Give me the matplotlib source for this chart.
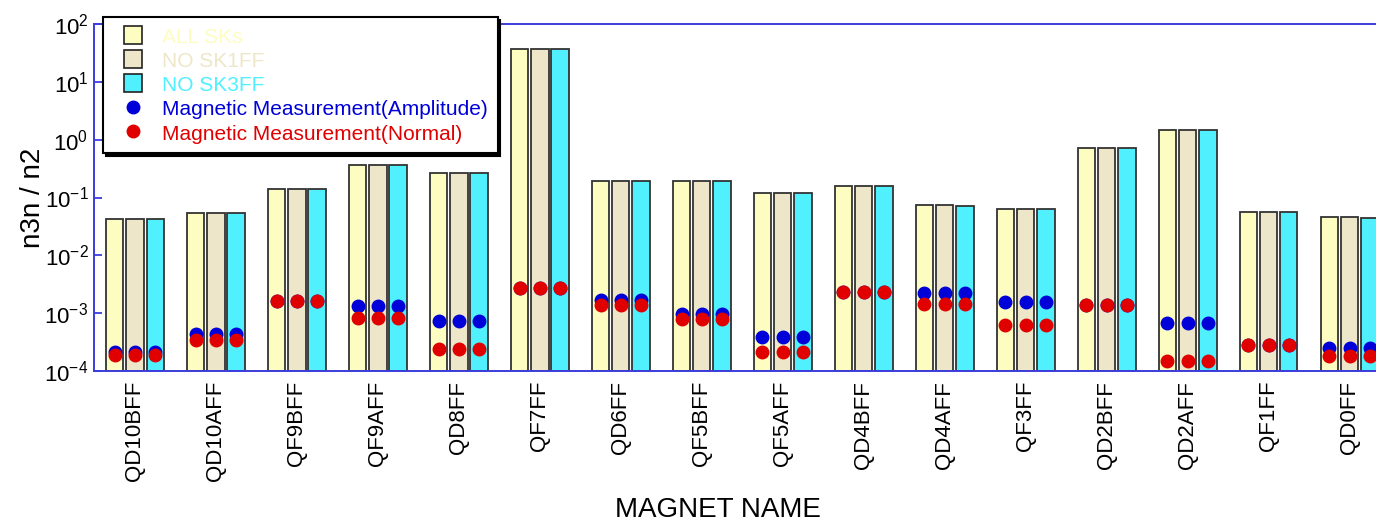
import numpy as np
import matplotlib
matplotlib.use('Agg')
import matplotlib.pyplot as plt
from matplotlib.ticker import NullLocator
from matplotlib.lines import Line2D

plt.rcParams['font.family'] = ['Liberation Sans', 'DejaVu Sans']
plt.rcParams['mathtext.default'] = 'regular'

magnets = ['QD10BFF', 'QD10AFF', 'QF9BFF', 'QF9AFF', 'QD8FF', 'QF7FF', 'QD6FF', 'QF5BFF',
           'QF5AFF', 'QD4BFF', 'QD4AFF', 'QF3FF', 'QD2BFF', 'QD2AFF', 'QF1FF', 'QD0FF']

all_sks = [0.042, 0.053, 0.139, 0.36, 0.26, 36.5, 0.194, 0.193,
           0.12, 0.155, 0.0753, 0.0643, 0.71, 1.48, 0.0564, 0.046]
no_sk1ff = [0.042, 0.053, 0.139, 0.36, 0.26, 36.5, 0.194, 0.193,
            0.12, 0.155, 0.0753, 0.0643, 0.71, 1.48, 0.0564, 0.046]
no_sk3ff = [0.042, 0.053, 0.139, 0.36, 0.26, 36.5, 0.194, 0.193,
            0.12, 0.155, 0.0706, 0.0643, 0.71, 1.48, 0.0564, 0.045]

meas_amp = [2.16e-4, 4.3e-4, 1.61e-3, 1.33e-3, 7.2e-4, 2.73e-3, 1.69e-3, 9.7e-4,
            3.9e-4, 2.33e-3, 2.26e-3, 1.58e-3, 1.39e-3, 6.86e-4, 2.78e-4, 2.53e-4]
meas_norm = [1.89e-4, 3.4e-4, 1.61e-3, 8.4e-4, 2.4e-4, 2.73e-3, 1.39e-3, 7.9e-4,
             2.16e-4, 2.33e-3, 1.44e-3, 6.25e-4, 1.39e-3, 1.49e-4, 2.78e-4, 1.8e-4]

series = [('ALL SKs', all_sks, '#FDFDC2'),
          ('NO SK1FF', no_sk1ff, '#EEE6C8'),
          ('NO SK3FF', no_sk3ff, '#50F0FF')]
blue = '#0000D8'
red = '#E00000'
spine_blue = '#3c3cdc'

fig = plt.figure(figsize=(13.76, 5.26), dpi=100)
ax = fig.add_axes([94/1376, 155/526, 1296/1376, 347/526])

x = np.arange(len(magnets))
offsets = [-0.25, 0, 0.25]
for (name, vals, col), off in zip(series, offsets):
    ax.bar(x + off, vals, width=0.215, bottom=1e-4, color=col, edgecolor='#333333',
           linewidth=1.3, zorder=2)
    ax.plot(x + off, meas_amp, 'o', color=blue, markersize=9, zorder=3)
    ax.plot(x + off, meas_norm, 'o', color=red, markersize=9, zorder=4)

ax.set_yscale('log')
ax.set_ylim(1e-4, 1e2)
ax.set_xlim(-0.506, 15.5)
ax.yaxis.set_minor_locator(NullLocator())
ax.set_xticks(x)
ax.set_xticklabels(magnets, rotation=90, fontsize=16)
ax.tick_params(axis='x', length=0, pad=7)
ax.tick_params(axis='y', direction='in', length=6, width=1.3, color=spine_blue,
               labelsize=16, pad=4)
for s in ['left', 'bottom', 'top']:
    ax.spines[s].set_color(spine_blue)
    ax.spines[s].set_linewidth(1.4)
ax.spines['right'].set_visible(False)

ax.set_ylabel('n3n / n2', fontsize=20)
ax.yaxis.set_label_coords(-0.037, 0.5)
fig.text(718/1376, 1 - 510/526, 'MAGNET NAME', fontsize=20, ha='center', va='center')

handles = [Line2D([], [], marker='s', color=c, markeredgecolor='#222222', markeredgewidth=1.2,
                  linestyle='none', markersize=13.5) for _, _, c in series]
handles += [Line2D([], [], marker='o', color=blue, linestyle='none', markersize=9),
            Line2D([], [], marker='o', color=red, linestyle='none', markersize=9)]
labels = [s[0] for s in series] + ['Magnetic Measurement(Amplitude)', 'Magnetic Measurement(Normal)']
text_colors = [c for _, _, c in series] + [blue, red]
leg = fig.legend(handles, labels, loc='upper left', bbox_to_anchor=(103/1376, 1 - 17/526),
                 bbox_transform=fig.transFigure, fontsize=15, fancybox=False,
                 framealpha=1, edgecolor='black', borderaxespad=0, numpoints=1,
                 shadow={'color': 'black', 'alpha': 1}, handlelength=2.0, handleheight=1.0,
                 labelspacing=0.18, handletextpad=0.4, borderpad=0.45)
leg.get_frame().set_linewidth(1.5)
for t, c in zip(leg.get_texts(), text_colors):
    t.set_color(c)

fig.savefig('out.png', dpi=100)
